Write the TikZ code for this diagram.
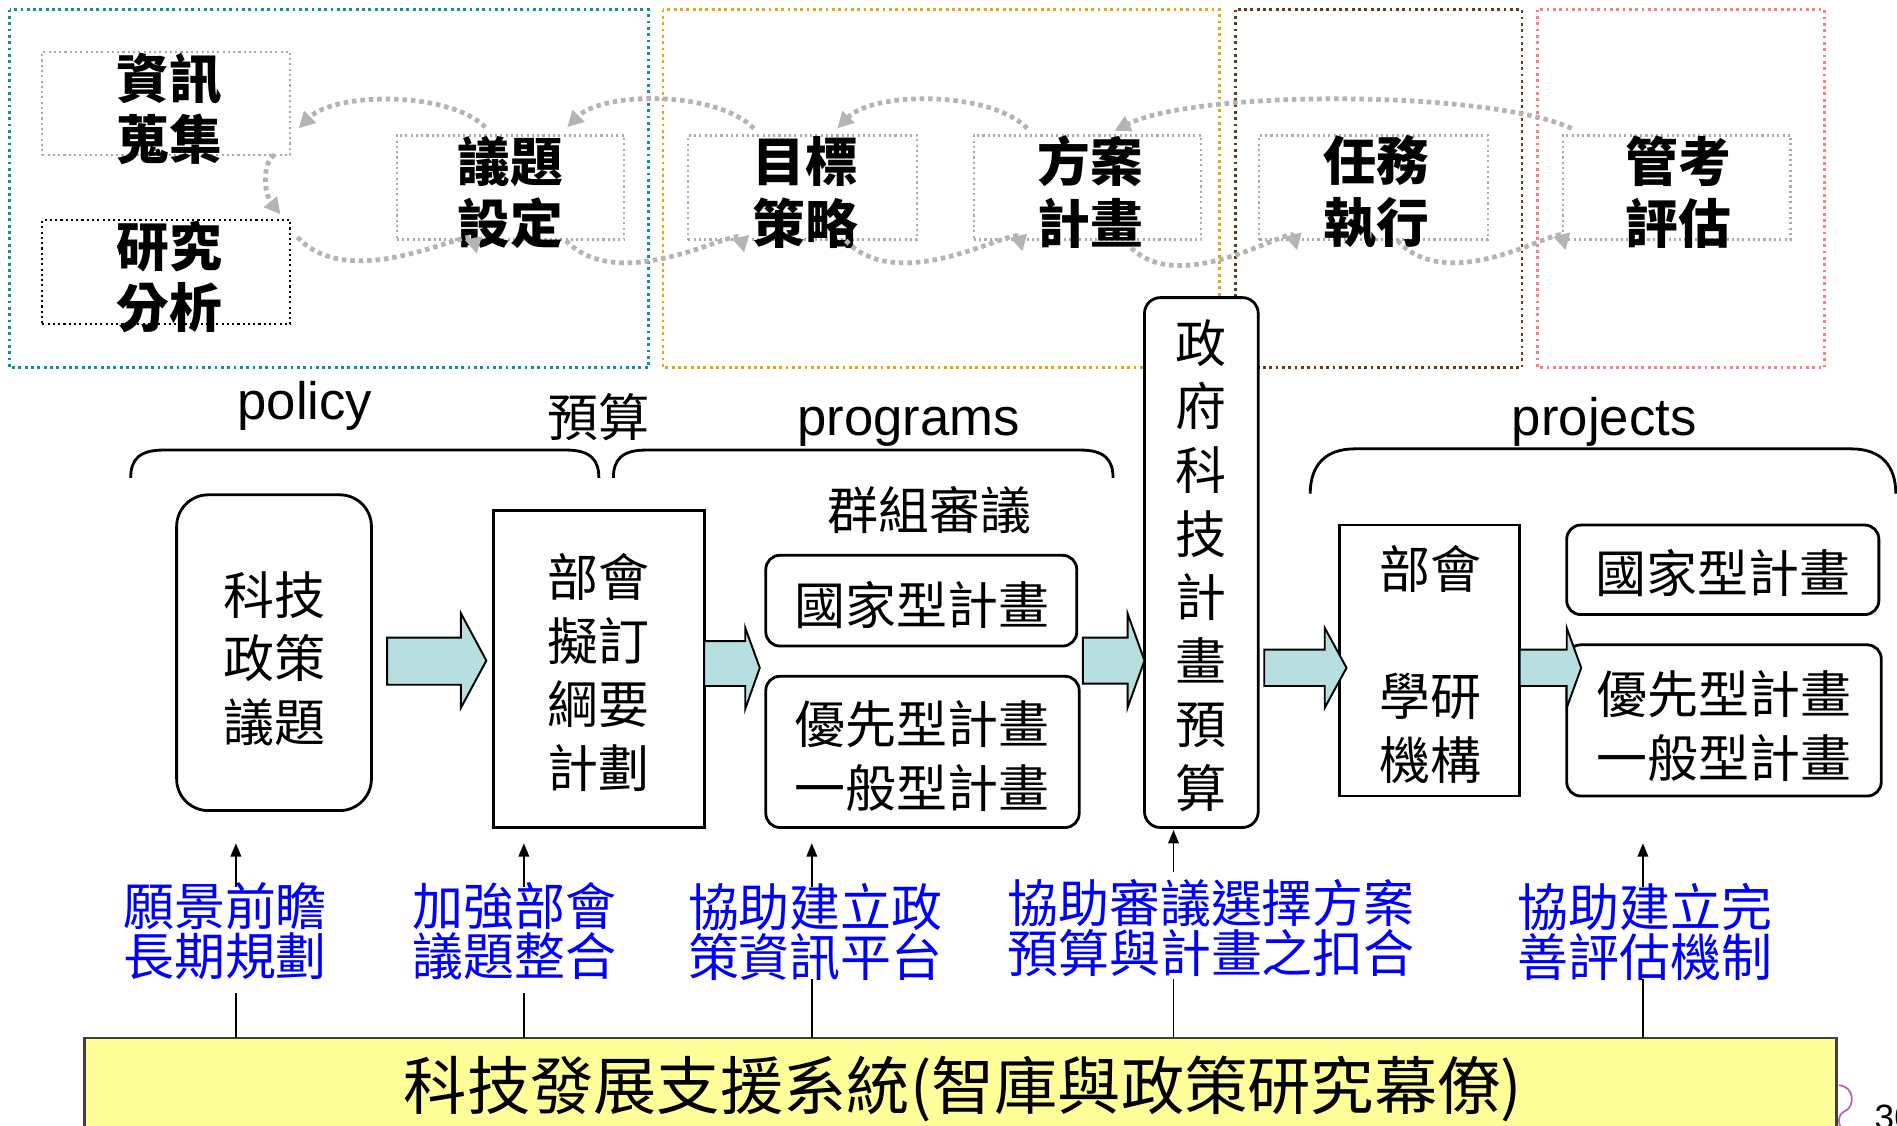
\documentclass[tikz,border=0pt]{standalone}
\usepackage{fontspec}
\setmainfont{Noto Sans CJK TC}
\newfontfamily\arialf{Liberation Sans}
\usetikzlibrary{fit,arrows.meta,calc}
\definecolor{teal1}{HTML}{0E9393}
\definecolor{gold1}{HTML}{E0A80C}
\definecolor{brown1}{HTML}{6B3A0E}
\definecolor{pink1}{HTML}{FF7C80}
\definecolor{curvegray}{HTML}{B4B4B4}
\definecolor{boxgray}{HTML}{ABABAB}
\definecolor{arrowfill}{HTML}{B7DEE0}
\definecolor{yel}{HTML}{FFFF99}
\definecolor{lblue}{HTML}{0000FF}
\newcommand\blockarr[8]{\filldraw[blk] (#1,#4) -- (#2,#4) -- (#2,#6) -- (#3,#8) -- (#2,#7) -- (#2,#5) -- (#1,#5) -- cycle;}
\begin{document}
\begin{tikzpicture}[x=0.34422pt,y=-0.34422pt,
  cluster/.style={line width=0.8pt, dash pattern=on 0.8pt off 1.0pt},
  tbox/.style={draw=boxgray, line width=0.6pt, dash pattern=on 0.6pt off 0.9pt, inner sep=0pt},
  ttext/.style={font=\fontsize{15}{17.6}\selectfont\bfseries, align=center, inner sep=0pt},
  flow/.style={draw=curvegray, line width=1.35pt, dash pattern=on 1.3pt off 1.1pt, -{Triangle[length=4.6pt,width=4.6pt]}},
  sbox/.style={draw=black, line width=0.8pt, inner sep=0pt},
  rbox/.style={sbox, rounded corners=4pt},
  mtext/.style={font=\fontsize{14.5}{18.1}\selectfont, align=center, inner sep=0pt},
  btext/.style={font=\fontsize{14.5}{14.2}\selectfont, align=center, inner sep=0pt, text=lblue},
  etext/.style={font=\arialf\fontsize{15}{18}\selectfont, inner sep=0pt, anchor=base},
  brace/.style={draw=black, line width=0.8pt},
  supline/.style={draw=black, line width=0.5pt},
  suparrow/.style={supline, -{Triangle[length=3.8pt,width=3pt]}},
  blk/.style={fill=arrowfill, draw=black, line width=0.55pt, line join=miter}
]
\useasboundingbox (0,0) rectangle (1568,930.7);

% ---------- top clusters ----------
\draw[cluster, draw=teal1] (8,8) rectangle (536,304);
\draw[cluster, draw=gold1] (548,8) rectangle (1008,304);
\draw[cluster, draw=brown1] (1021,8) rectangle (1258,304);
\draw[cluster, draw=pink1] (1271,8) rectangle (1508,304);

\node[tbox, fit={(35,43) (240,128)}] (zx) {};
\node[tbox, draw=black, fit={(35,182) (240,268)}] (yj) {};
\node[tbox, fit={(328,112) (516,198)}] (yt) {};
\node[tbox, fit={(569,112) (758,198)}] (mb) {};
\node[tbox, fit={(805,112) (993,198)}] (fa) {};
\node[tbox, fit={(1041,112) (1230,198)}] (rw) {};
\node[tbox, fit={(1292,112) (1480,198)}] (gk) {};

\node[ttext] (zxt) at ($(zx.center)+(2.5,4.5)$) {資訊\\蒐集};
\node[ttext] (yjt) at ($(yj.center)+(2.5,4)$) {研究\\分析};
\node[ttext] (ytt) at ($(yt.center)+(0,4)$) {議題\\設定};
\node[ttext] (mbt) at ($(mb.center)+(2,4)$) {目標\\策略};
\node[ttext] (fat) at ($(fa.center)+(2,4)$) {方案\\計畫};
\node[ttext] (rwt) at ($(rw.center)+(2,4)$) {任務\\執行};
\node[ttext] (gkt) at ($(gk.center)+(1,4)$) {管考\\評估};

% backward (upper) curves
\draw[flow] ($(yt.north west)+(74,-6)$) .. controls +(-30,-30) and +(30,-30) .. ($(zx.east)+(6,20.5)$);
\draw[flow] ($(mb.north west)+(55,-5)$) .. controls +(-30,-31) and +(30,-30) .. ($(yt.north east)+(-48,-6)$);
\draw[flow] ($(fa.north west)+(45,-5)$) .. controls +(-30,-31) and +(30,-31) .. ($(mb.north west)+(124,-5)$);
\draw[flow] ($(gk.north west)+(8,-5)$) .. controls +(-70,-32) and +(68,-34) .. ($(fa.north west)+(117,-3)$);
% forward (lower) curves
\draw[flow] ($(zx.south east)+(-14,-1)$) .. controls +(-11,8) and +(-13,-16) .. ($(yj.north east)+(-9,-4)$);
\draw[flow] ($(yj.north east)+(5,15)$) .. controls +(45,48) and +(-5,-23) .. ($(yt.south west)+(67,11)$);
\draw[flow] ($(yt.south east)+(-49,0)$) .. controls +(45,47) and +(-5,-22) .. ($(mb.south west)+(47,10)$);
\draw[flow] ($(mb.south west)+(131,0)$) .. controls +(44,47) and +(-5,-21) .. ($(fa.south west)+(41,9)$);
\draw[flow] ($(fa.south west)+(131,6)$) .. controls +(41,41) and +(-5,-20) .. ($(rw.south west)+(32,8)$);
\draw[flow] ($(rw.south west)+(115,0)$) .. controls +(43,47) and +(-5,-20) .. ($(gk.south west)+(3,8)$);

% ---------- headings and braces ----------
\node[etext] (tpol) at (252,347) {policy};
\node[etext] (tprog) at (751,360) {programs};
\node[etext] (tproj) at (1326,360) {projects};
\node[mtext] (tys) at (495,345) {預算};
\node[mtext] (tqz) at (768,422) {群組審議};

\draw[brace] (108,395) .. controls (108,380) and (115,372) .. (135,372) -- (468,372) .. controls (488,372) and (495,380) .. (495,395);
\draw[brace] (507,395) .. controls (507,380) and (514,372) .. (534,372) -- (893,372) .. controls (913,372) and (920,380) .. (920,395);
\draw[brace] (1083,408) .. controls (1083,385) and (1095,371) .. (1120,371) -- (1530,371) .. controls (1555,371) and (1567,385) .. (1567,408);

% ---------- middle boxes ----------
\node[sbox, rounded corners=9pt, fit={(146,409) (307,670)}] (kz) {};
\node[sbox, fit={(408,422) (582,684)}] (bh) {};
\node[rbox, fit={(633,459) (890,534)}] (gj1) {};
\node[rbox, fit={(633,559) (892,684)}] (yx1) {};
\node[rbox, rounded corners=4.5pt, fill=white, fit={(946,246) (1040,684)}] (zf) {};
\node[sbox, fit={(1107,434) (1256,658)}] (bx) {};
\node[rbox, fit={(1295,434) (1553,508)}] (gj2) {};
\node[rbox, fit={(1295,533) (1555,658)}] (yx2) {};

\node[mtext] (kzt) at (226.5,544.5) {科技\\政策\\議題};
\node[mtext] (bht) at (495,556) {部會\\擬訂\\綱要\\計劃};
\node[mtext] (gj1t) at (762,500) {國家型計畫};
\node[mtext] (yx1t) at (762,625) {優先型計畫\\一般型計畫};
\node[mtext] (zft) at (993,467.5) {政\\府\\科\\技\\計\\畫\\預\\算};
\node[mtext] (bxt) at (1182,549) {部會\\\mbox{}\\學研\\機構};
\node[mtext] (gj2t) at (1424,474) {國家型計畫};
\node[mtext] (yx2t) at (1425,600) {優先型計畫\\一般型計畫};

% block arrows
\blockarr{320}{381}{402}{527}{566}{507}{585}{546}
\blockarr{582}{616}{628}{530}{567}{519}{586}{552}
\blockarr{895}{932}{946}{527}{565}{507}{585}{546}
\blockarr{1045}{1095}{1113}{537}{567}{519}{585}{552}
\blockarr{1256}{1295}{1307}{537}{567}{519}{585}{552}

% ---------- support system ----------
\node[fit={(70,858) (1518,960)}, fill=yel, draw=black!75, line width=0.8pt, inner sep=0pt] (yb) {};
\node[font=\fontsize{18}{20}\selectfont, inner sep=0pt] (ybt) at (796,900) {科技發展支援系統(智庫與政策研究幕僚)};

\node[btext] (L1) at (186,770) {願景前瞻\\長期規劃};
\node[btext] (L2) at (425,770) {加強部會\\議題整合};
\node[btext] (L3) at (674,770) {協助建立政\\策資訊平台};
\node[btext] (L4) at (1001,767) {協助審議選擇方案\\預算與計畫之扣合};
\node[btext] (L5) at (1360,770) {協助建立完\\善評估機制};

\coordinate (b1) at (195,858); \coordinate (l1b) at (195,821); \coordinate (l1t) at (195,733); \coordinate (u1) at (195,697);
\coordinate (b2) at (433,858); \coordinate (l2b) at (433,821); \coordinate (l2t) at (433,733); \coordinate (u2) at (433,697);
\coordinate (b3) at (671,858); \coordinate (l3b) at (671,809); \coordinate (l3t) at (671,733); \coordinate (u3) at (671,697);
\coordinate (b4) at (970,858); \coordinate (l4b) at (970,809); \coordinate (l4t) at (970,721); \coordinate (u4) at (970,686);
\coordinate (b5) at (1358,858); \coordinate (l5b) at (1358,809); \coordinate (l5t) at (1358,733); \coordinate (u5) at (1358,697);
\foreach \i in {1,...,5} {
  \draw[supline] (b\i) -- (l\i b);
  \draw[suparrow] (l\i t) -- (u\i);
}

% page corner remnants
\draw[draw=blue!50!red!60, line width=0.5pt] (1520,897) .. controls (1533,898) and (1534,915) .. (1524,919) .. controls (1519,922) and (1519,928) .. (1522,933);
\node[font=\arialf\fontsize{10}{12}\selectfont, anchor=base west, inner sep=0pt] (pg) at (1549,934) {30};
\end{tikzpicture}
\end{document}
